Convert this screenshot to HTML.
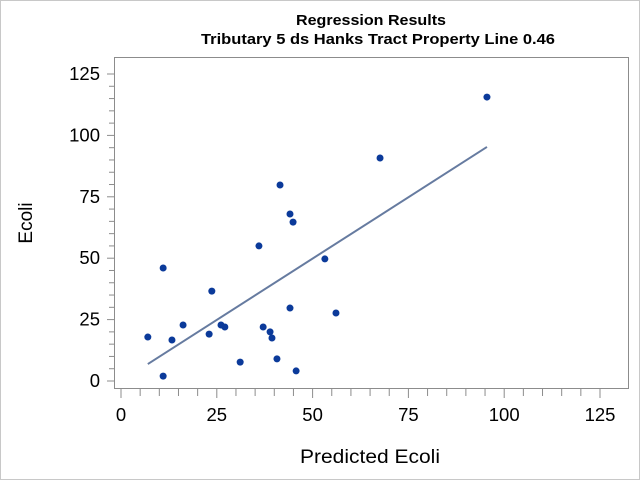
<!DOCTYPE html>
<html><head><meta charset="utf-8"><style>
body{margin:0;background:#fff}
svg{display:block;font-family:"Liberation Sans",sans-serif}
</style></head><body>
<svg id="chart" width="640" height="480">
<rect x="0.5" y="0.5" width="639" height="479" fill="#fff" stroke="#c8c8c8"/>
<text x="371" y="25" text-anchor="middle" font-size="14.5" font-weight="bold" textLength="150" lengthAdjust="spacingAndGlyphs">Regression Results</text>
<text x="378" y="44" text-anchor="middle" font-size="14.5" font-weight="bold" textLength="354" lengthAdjust="spacingAndGlyphs">Tributary 5 ds Hanks Tract Property Line 0.46</text>
<rect x="114.5" y="57.5" width="514" height="331" fill="none" stroke="#8c8c8c"/>
<g id="axes"></g>
<g id="marks"></g>
<text x="370" y="463" text-anchor="middle" font-size="19" textLength="140" lengthAdjust="spacingAndGlyphs">Predicted Ecoli</text>
<text x="32" y="223" text-anchor="middle" font-size="19" transform="rotate(-90 32 223)">Ecoli</text>
</svg>
<script>
const predicted=[7.0,11.0,11.0,13.3,16.2,23.0,23.7,26.1,27.1,31.1,36.0,37.1,38.9,39.4,40.7,41.5,44.1,44.1,44.9,45.7,53.2,56.1,67.6,95.5];
const observed=[17.9,46,2,16.7,22.8,19.1,36.6,22.8,22,7.7,55,22,20,17.5,9,79.8,68,29.7,64.7,4.1,49.7,27.7,90.8,115.6];
const fitX=[7.0,95.5];
const fitY=[6.9,95.3];
const xTicks=[0,25,50,75,100,125];
const yTicks=[0,25,50,75,100,125];
const NS='http://www.w3.org/2000/svg';
const sx=v=>121+v*3.832;
const sy=v=>381-v*2.456;
const axes=document.getElementById('axes'),marks=document.getElementById('marks');
function mk(tag,attrs,parent){const e=document.createElementNS(NS,tag);for(const k in attrs)e.setAttribute(k,attrs[k]);parent.appendChild(e);return e;}
for(let v=0;v<=125;v+=5){
  const major=v%25===0;
  const x=sx(v);
  const t=mk('line',{x1:x,x2:x,y1:389,y2:major?398:396,stroke:'#8c8c8c'},axes);
  
  
  const y=sy(v);
  const u=mk('line',{x1:major?107:109,x2:114,y1:y,y2:y,stroke:'#8c8c8c'},axes);
  
  
}
xTicks.forEach(v=>{
  const t=mk('text',{x:sx(v),y:421,'text-anchor':'middle','font-size':'18.5'},axes);
  t.textContent=v;
  
  
});
yTicks.forEach(v=>{
  const t=mk('text',{x:100,y:sy(v)+6,'text-anchor':'end','font-size':'18.5'},axes);
  t.textContent=v;
  
  
});
const line=mk('line',{x1:sx(fitX[0]),y1:sy(fitY[0]),x2:sx(fitX[1]),y2:sy(fitY[1]),stroke:'#667ba0','stroke-width':'2'},marks);


predicted.forEach((p,i)=>{
  const c=mk('circle',{cx:sx(p),cy:sy(observed[i]),r:3.5,fill:'#0b3a9a'},marks);
  
  
});
</script>
</body></html>
